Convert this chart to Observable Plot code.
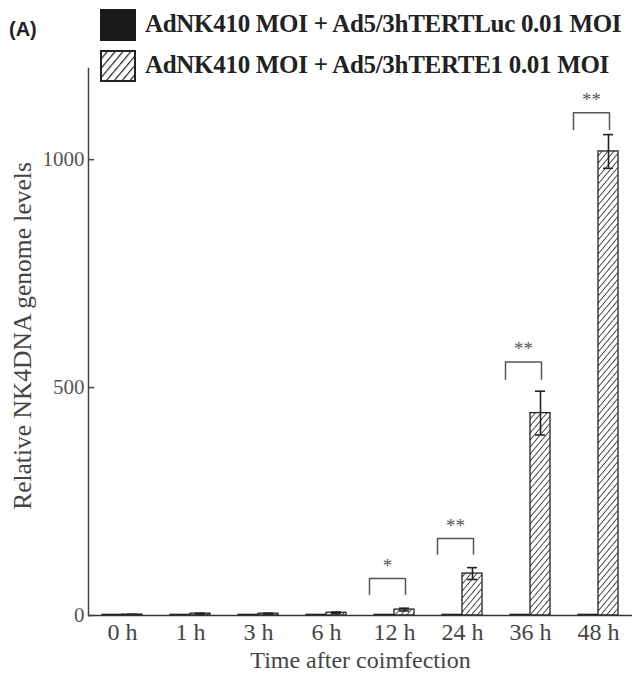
<!DOCTYPE html>
<html><head><meta charset="utf-8">
<script src="https://cdn.jsdelivr.net/npm/d3@7"></script>
<script src="https://cdn.jsdelivr.net/npm/@observablehq/plot@0.6"></script>
<style>
body{margin:0;background:#fff}
#wrap{position:relative;width:632px;height:681px;overflow:hidden}
#wrap svg.plot{position:absolute;left:0;top:0}
.lg{position:absolute;font-family:"Liberation Serif",serif;font-weight:bold;font-size:25px;color:#222;white-space:nowrap;line-height:1;letter-spacing:-0.3px}
.panel{position:absolute;left:9px;top:18px;font-family:"Liberation Sans",Arial,sans-serif;font-weight:bold;font-size:20px;color:#222}
.sw{position:absolute;left:100px;width:36px;height:32px;box-sizing:border-box}
</style></head><body>
<div id="wrap"></div>
<script>
const times = ["0 h","1 h","3 h","6 h","12 h","24 h","36 h","48 h"];
const lucValues = [1.5,1.5,1.5,1.5,1.5,1.5,1.5,1.5];
const e1Values = [2,4,4,6,13,92,444,1018];
const e1Errors = [0.5,1,1,1.5,3,13,48,37];
const sigTimes = ["12 h","24 h","36 h","48 h"];
const sigLabels = ["*","**","**","**"];
const bracketTops = [81,169,556,1103];
const bracketLegs = [44,132,516,1064];
const yTicks = [0,500,1000];
const seriesNames = ["AdNK410 MOI + Ad5/3hTERTLuc 0.01 MOI","AdNK410 MOI + Ad5/3hTERTE1 0.01 MOI"];

const luc = times.map((t,i)=>({time:t,value:lucValues[i]}));
const e1 = times.map((t,i)=>({time:t,value:e1Values[i],err:e1Errors[i]}));
const sig = sigTimes.map((t,i)=>({time:t,label:sigLabels[i],top:bracketTops[i],leg:bracketLegs[i]}));

const ink = "#222";
const chart = Plot.plot({
  width:632, height:681,
  marginTop:68, marginBottom:66, marginLeft:88, marginRight:0,
  style:{fontFamily:"Liberation Serif, serif", fontSize:"21px", color:"#333", background:"transparent"},
  x:{domain:times, padding:0},
  y:{domain:[0,1200]},
  marks:[
    Plot.barY(luc,{x:"time",y:"value",fill:"#1a1a1a",stroke:"#1a1a1a",strokeWidth:1.2,insetLeft:14,insetRight:34}),
    Plot.barY(e1,{x:"time",y:"value",fill:"url(#hatch)",stroke:ink,strokeWidth:1.3,insetLeft:34,insetRight:14}),
    Plot.ruleX(e1,{x:"time",y1:d=>d.value-d.err,y2:d=>d.value+d.err,dx:10,stroke:ink,strokeWidth:1.6}),
    Plot.tickY(e1,{x:"time",y:d=>d.value+d.err,insetLeft:39,insetRight:19,stroke:ink,strokeWidth:1.6}),
    Plot.tickY(e1,{x:"time",y:d=>d.value-d.err,insetLeft:39,insetRight:19,stroke:ink,strokeWidth:1.6}),
    Plot.tickY(sig,{x:"time",y:"top",insetLeft:9,insetRight:23,stroke:"#555",strokeWidth:1.5}),
    Plot.ruleX(sig,{x:"time",y1:"leg",y2:"top",dx:-25,stroke:"#555",strokeWidth:1.5}),
    Plot.ruleX(sig,{x:"time",y1:"leg",y2:"top",dx:11,stroke:"#555",strokeWidth:1.5}),
    Plot.text(sig,{x:"time",y:"top",text:"label",dx:-7,dy:-13,fontSize:19,fill:"#555"}),
    Plot.ruleY([0],{stroke:"#333",strokeWidth:1.5}),
    Plot.frame({anchor:"left",stroke:"#444",strokeWidth:1.5}),
    Plot.tickY(yTicks,{x:()=>times[0],y:d=>d,insetLeft:0,insetRight:62,stroke:"#444",strokeWidth:1.5}),
    Plot.axisY({ticks:yTicks,tickSize:0,tickPadding:4,tickFormat:d=>String(d),fill:"#555",fontSize:21}),
    Plot.text(["Relative NK4DNA genome levels"],{frameAnchor:"left",textAnchor:"middle",dx:-66,dy:-6,rotate:-90,fontSize:25.5,fill:"#444"}),
    Plot.axisX({tickSize:0,tickPadding:7,fill:"#444",fontSize:24,
      label:"Time after coimfection",labelAnchor:"center",labelArrow:"none",labelOffset:52})
  ]
});
chart.classList.add("plot");
const defs = d3.select(chart).insert("defs",":first-child");
const pat = defs.append("pattern").attr("id","hatch").attr("patternUnits","userSpaceOnUse")
  .attr("width",4.5).attr("height",4.5).attr("patternTransform","rotate(40)");
pat.append("rect").attr("width",4.5).attr("height",4.5).attr("fill","#fff");
pat.append("line").attr("x1",0).attr("y1",0).attr("x2",0).attr("y2",4.5).attr("stroke","#222").attr("stroke-width",1.6);

const wrap = document.getElementById("wrap");
wrap.appendChild(chart);

const panel = document.createElement("div");
panel.className="panel"; panel.textContent="(A)";
wrap.appendChild(panel);

const sw1 = document.createElement("div");
sw1.className="sw"; sw1.style.top="9px"; sw1.style.background="#1a1a1a";
wrap.appendChild(sw1);
const sw2 = document.createElementNS("http://www.w3.org/2000/svg","svg");
sw2.setAttribute("width",36); sw2.setAttribute("height",32);
sw2.style.position="absolute"; sw2.style.left="100px"; sw2.style.top="50px";
sw2.innerHTML = '<defs><pattern id="hatchL" patternUnits="userSpaceOnUse" width="6" height="6" patternTransform="rotate(40)"><rect width="6" height="6" fill="#fff"/><line x1="0" y1="0" x2="0" y2="6" stroke="#222" stroke-width="2.4"/></pattern></defs><rect x="1" y="1" width="34" height="30" fill="url(#hatchL)" stroke="#222" stroke-width="2"/>';
wrap.appendChild(sw2);

seriesNames.forEach((name,i)=>{
  const t = document.createElement("div");
  t.className="lg"; t.textContent=name;
  t.style.left="145px"; t.style.top=(i===0?11:52)+"px";
  wrap.appendChild(t);
});
</script>
</body></html>
